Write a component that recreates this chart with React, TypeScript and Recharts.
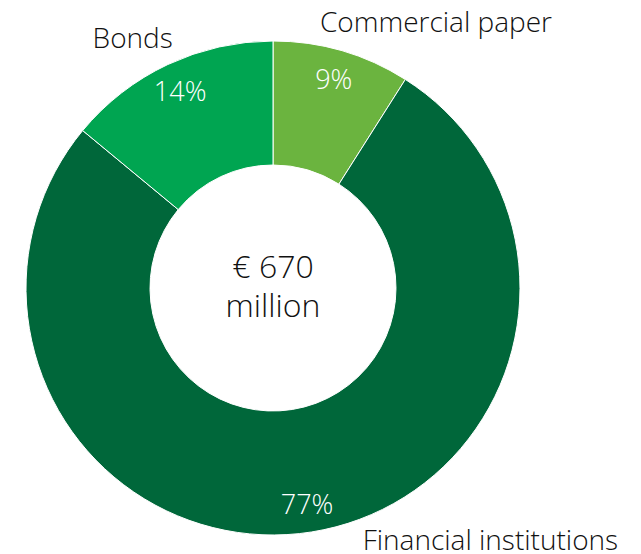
import React from "react";
import { PieChart, Pie, Cell } from "recharts";

const categories = ["Commercial paper", "Financial institutions", "Bonds"];
const shares = [9, 77, 14];
const colors = ["#6BB43F", "#00673A", "#00A551"];
const centerLines = ["€ 670", "million"];

const data = categories.map((name, i) => ({ name, value: shares[i] }));

// name label placement relative to slice's outer mid point: [dx, dy, anchor]
const nameOffsets: [number, number, string][] = [
  [-22, -19, "start"],
  [51, 18, "start"],
  [5, -17, "end"],
];

const FONT = "'Open Sans', 'Segoe UI', sans-serif";
const RAD = Math.PI / 180;

const renderLabel = (props: any) => {
  const { cx, cy, midAngle, outerRadius, index, value } = props;
  const cos = Math.cos(-midAngle * RAD);
  const sin = Math.sin(-midAngle * RAD);
  const pr = outerRadius - 29;
  const px = cx + pr * cos;
  const py = cy + pr * sin;
  const ox = cx + outerRadius * cos;
  const oy = cy + outerRadius * sin;
  const [dx, dy, anchor] = nameOffsets[index];
  return (
    <g>
      <text
        x={px}
        y={py}
        fill="#ffffff"
        fontSize={27}
        fontWeight={300}
        fontFamily={FONT}
        textAnchor="middle"
        dominantBaseline="central"
      >
        {`${value}%`}
      </text>
      <text
        x={ox + dx}
        y={oy + dy}
        fill="#111111"
        fontSize={28}
        fontWeight={300}
        fontFamily={FONT}
        textAnchor={anchor as any}
      >
        {categories[index]}
      </text>
    </g>
  );
};

export default function App() {
  const cx = 273;
  const cy = 288;
  return (
    <div style={{ position: "absolute", left: 0, top: 0, width: 641, height: 554, background: "#fff" }}>
      <PieChart width={641} height={554} margin={{ top: 0, right: 0, bottom: 0, left: 0 }}>
        <Pie
          data={data}
          dataKey="value"
          nameKey="name"
          cx={cx}
          cy={cy}
          innerRadius={123}
          outerRadius={247}
          startAngle={90}
          endAngle={-270}
          stroke="#ffffff"
          strokeWidth={1}
          label={renderLabel}
          labelLine={false}
          isAnimationActive={false}
        >
          {data.map((d, i) => (
            <Cell key={d.name} fill={colors[i]} />
          ))}
        </Pie>
        <text
          x={cx}
          y={278}
          textAnchor="middle"
          fontSize={32}
          fontWeight={300}
          fontFamily={FONT}
          fill="#111111"
        >
          {centerLines[0]}
        </text>
        <text
          x={cx}
          y={317}
          textAnchor="middle"
          fontSize={32}
          fontWeight={300}
          fontFamily={FONT}
          fill="#111111"
        >
          {centerLines[1]}
        </text>
      </PieChart>
    </div>
  );
}
